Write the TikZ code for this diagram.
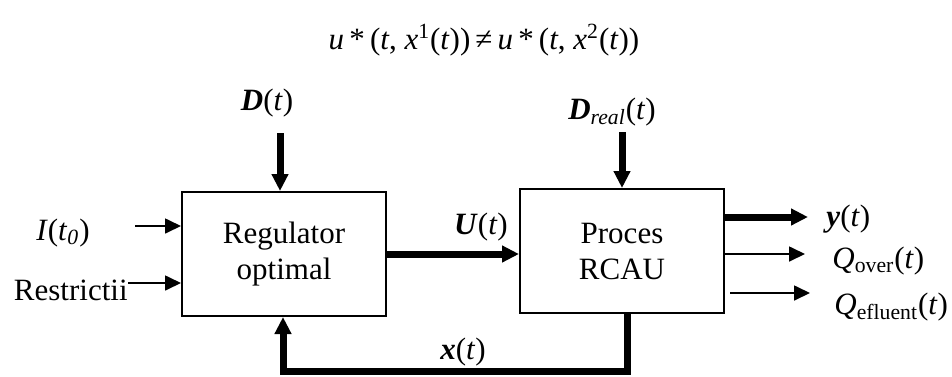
\documentclass[tikz,border=0pt]{standalone}
\usepackage{fontspec}
\setmainfont{Liberation Serif}
\usetikzlibrary{arrows.meta}
\usetikzlibrary{positioning}

\tikzset{
  blockbox/.style={draw, line width=1pt, minimum width=102pt, minimum height=62pt, align=center, inner sep=0pt},
  thinarrow/.style={line width=0.85pt, -{Triangle[length=8pt, width=7.5pt]}},
  thickarrow/.style={line width=3.5pt, -{Triangle[length=8.5pt, width=8pt]}},
  lbl/.style={inner sep=0pt},
}

\begin{document}
\begin{tikzpicture}[x=0.5pt, y=-0.5pt, font=\fontsize{15.5}{18}\selectfont]
    \useasboundingbox (0,0) rectangle (952,376);

    % control law on top
    \node[lbl] (law) at (484,40) {\textit{u}\,*\,(\textit{t}, \textit{x}\textsuperscript{1}(\textit{t}))\,≠\,\textit{u}\,*\,(\textit{t}, \textit{x}\textsuperscript{2}(\textit{t}))};

    % the two blocks
    \node[blockbox] (reg) at (284,254) {Regulator\\optimal};
    \node[blockbox] (proc) at (622,251) {Proces\\RCAU};

    % disturbances
    \node[lbl] (dist) at (267,103) {\textbf{\textit{D}}(\textit{t})};
    \node[lbl] (distreal) at (612,112) {\textbf{\textit{D}}\textsubscript{\textit{real}}(\textit{t})};
    \coordinate (dtop) at (280,133);
    \coordinate (drtop) at (622,132);
    \draw[thickarrow] (dtop) -- (dtop |- reg.north);
    \draw[thickarrow] (drtop) -- (proc.north);

    % inputs of the regulator
    \node[lbl] (init) at (63,233) {\textit{I}(\textit{t}\textsubscript{\textit{0}})};
    \node[lbl, anchor=east] (restr) at (128,290) {Restrictii};
    \coordinate (iin) at (135,226);
    \coordinate (rin) at (128,283);
    \draw[thinarrow] (iin) -- (iin -| reg.west);
    \draw[thinarrow] (rin) -- (rin -| reg.west);

    % command
    \node[lbl] (cmd) at (481,227) {\textbf{\textit{U}}(\textit{t})};
    \draw[thickarrow] (reg.east) -- (reg.east -| proc.west);

    % outputs
    \node[lbl, anchor=west] (yout) at (826,219) {\textbf{\textit{y}}(\textit{t})};
    \node[lbl, anchor=west] (qover) at (832,261) {\textit{Q}\textsubscript{over}(\textit{t})};
    \node[lbl, anchor=west] (qefl) at (834,307) {\textit{Q}\textsubscript{efluent}(\textit{t})};
    \coordinate (yend) at (808,217);
    \coordinate (qoend) at (805,254);
    \coordinate (qeend) at (810,293);
    \draw[thickarrow] (yend -| proc.east) -- (yend);
    \draw[thinarrow] (qoend -| proc.east) -- (qoend);
    \draw[thinarrow] ([xshift=2.5pt]qeend -| proc.east) -- (qeend);

    % state feedback
    \node[lbl] (state) at (463,352) {\textbf{\textit{x}}(\textit{t})};
    \coordinate (fbcorner) at (283,371);
    \draw[thickarrow] ([xshift=2.5pt]proc.south) |- (fbcorner) -- (fbcorner |- reg.south);

\end{tikzpicture}
\end{document}
